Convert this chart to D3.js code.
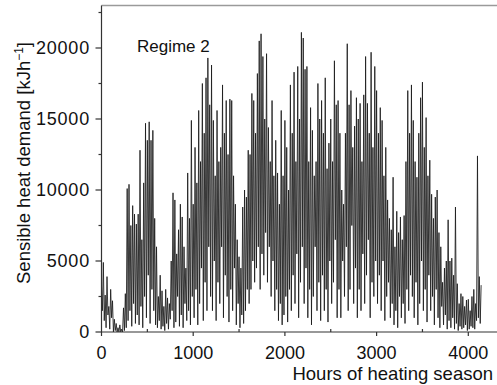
<!DOCTYPE html>
<html>
<head>
<meta charset="utf-8">
<script src="https://cdn.jsdelivr.net/npm/d3@7/dist/d3.min.js"></script>
<style>
  body { margin: 0; background: #fff; }
  text { font-family: "Liberation Sans", Arial, Helvetica, sans-serif; fill: #111; }
</style>
</head>
<body>
<svg id="chart" width="497" height="385"></svg>
<script>
// sensible heat demand: daily highs at 0,20,40.. h
// and the lows between them at 10,30,50.. h
const step = 20;
const peaks = [
  3200, 4900, 2600, 3900, 1800, 3000, 2200, 900, 600, 300,          // 0-180
  500, 200, 1700, 2700, 10100, 10400, 7500, 8900, 8300, 7600,       // 200-380
  8300, 12800, 6500, 10500, 14700, 13500, 14800, 13500, 14200, 8000,// 400-580
  6000, 2500, 4000, 2900, 1800, 3000, 2400, 2000, 5000, 9800,       // 600-780
  9300, 5500, 7200, 9000, 8100, 6000, 4500, 11200, 8000, 14900,     // 800-980
  9000, 13000, 10500, 15600, 12000, 17500, 14000, 17900, 19300, 16000, // 1000-1180
  18800, 14900, 11000, 15600, 12000, 13000, 17400, 14000, 16300, 12500, // 1200-1380
  16400, 16300, 11000, 9000, 6500, 5300, 4500, 8800, 10000, 9500,   // 1400-1580
  12800, 12500, 16800, 16300, 14000, 18200, 20500, 21000, 19400, 15000, // 1600-1780
  19600, 14400, 12000, 16300, 11000, 13500, 11200, 9000, 15600, 11000, // 1800-1980
  14900, 13000, 10000, 17400, 14000, 18300, 12000, 18700, 15000, 21100, // 2000-2180
  20700, 18500, 18700, 12000, 15800, 14200, 11000, 12000, 17500, 15000, // 2200-2380
  16300, 14000, 17900, 11500, 13300, 15000, 12000, 19100, 16000, 16300, // 2400-2580
  14000, 10000, 9000, 14000, 20300, 16000, 17000, 13000, 14500, 16500,  // 2600-2780
  15000, 16100, 12000, 16700, 19400, 16100, 14000, 19700, 13000, 18700, // 2800-2980
  17000, 14000, 15800, 14900, 11000, 13000, 9300, 8000, 7200, 10900,    // 3000-3180
  6000, 8500, 7000, 8100, 6500, 8200, 12000, 17000, 14000, 17400,       // 3200-3380
  14900, 12000, 10900, 14000, 16500, 17600, 13000, 15100, 11000, 12100, // 3400-3580
  9700, 8000, 9500, 10000, 7000, 6000, 3500, 4500, 5000, 7900,          // 3600-3780
  5000, 5200, 4000, 8800, 3400, 2000, 2700, 2500, 1800, 2250,           // 3800-3980
  2300, 1500, 2500, 3000, 2000, 12400, 3900, 3300                       // 4000-4140
];
const troughs = [
  1500, 800, 300, 1200, 200, 1000, 0, 100, 0, 0,               // 10-190
  0, 0, 100, 300, 800, 1500, 400, 2000, 600, 1200,             // 210-390
  500, 1800, 300, 2500, 1000, 4000, 600, 3000, 1500, 500,      // 410-590
  300, 800, 200, 400, 100, 600, 200, 900, 1500, 300,           // 610-790
  700, 2500, 400, 1200, 300, 2000, 800, 1500, 500, 2500,       // 810-990
  1000, 3000, 500, 2000, 4500, 800, 3500, 1500, 6000, 2500,    // 1010-1190
  1500, 5000, 800, 3500, 2000, 6000, 1000, 4000, 2500, 700,    // 1210-1390
  3000, 1500, 4500, 500, 2000, 300, 1200, 600, 1500, 3000,     // 1410-1590
  2000, 3000, 5000, 3500, 4500, 6000, 3000, 5500, 4000, 7000,  // 1610-1790
  3500, 6000, 2500, 5000, 1500, 3000, 800, 2000, 500, 1200,    // 1810-1990
  2500, 700, 3000, 1500, 4000, 2000, 5500, 1000, 3500, 6000,   // 2010-2190
  2000, 4500, 1000, 3000, 500, 2500, 6000, 1500, 3500, 800,    // 2210-2390
  4000, 1500, 3000, 700, 5000, 2000, 3500, 6500, 1000, 3000,   // 2410-2590
  1000, 5000, 2500, 6000, 1500, 3000, 7500, 2000, 4500, 1000,  // 2610-2790
  3000, 1500, 5500, 2000, 4000, 6500, 1000, 3500, 2500, 5000,  // 2810-2990
  2000, 4000, 1500, 5000, 800, 2500, 3500, 1000, 2000, 500,    // 3010-3190
  1500, 300, 2500, 1000, 2000, 600, 3000, 1500, 4000, 2500,    // 3210-3390
  1000, 3500, 500, 2000, 5000, 1500, 3000, 700, 4000, 1500,    // 3410-3590
  2500, 500, 3000, 1000, 300, 1800, 500, 1200, 200, 800,       // 3610-3790
  300, 1000, 200, 600, 100, 400, 200, 300, 500, 100,           // 3810-3990
  200, 400, 300, 200, 800, 1000, 600                           // 4010-4130
];

const xMajor = [0, 1000, 2000, 3000, 4000];
const xMinor = [500, 1500, 2500, 3500];
const yMajor = [0, 5000, 10000, 15000, 20000];
const yMinor = [2500, 7500, 12500, 17500, 22500];

// one hourly trace: high, low, high, low ...
const series = [];
peaks.forEach((v, i) => {
  series.push({ hour: i * step, value: v });
  if (i < troughs.length) series.push({ hour: i * step + step / 2, value: troughs[i] });
});

const svg = d3.select('#chart');

const x = d3.scaleLinear().domain([0, 4000]).range([101.5, 468.3]);
const y = d3.scaleLinear().domain([0, 20000]).range([332, 48]);

const plotLeft = x(0), plotBottom = y(0), plotTop = y(23000), plotRight = 497;

const line = d3.line()
  .x(d => x(d.hour))
  .y(d => y(d.value));

svg.append('path')
  .datum(series)
  .attr('d', line)
  .attr('fill', 'none')
  .attr('stroke', '#1a1a1a')
  .attr('stroke-width', 0.85)
  .attr('stroke-linejoin', 'round');

// frame
svg.append('line')
  .attr('x1', plotLeft).attr('x2', plotRight).attr('y1', plotTop).attr('y2', plotTop)
  .attr('stroke', '#9a9a9a').attr('stroke-width', 1.5);
svg.append('line')
  .attr('x1', plotLeft).attr('x2', plotLeft).attr('y1', plotTop).attr('y2', plotBottom)
  .attr('stroke', '#333').attr('stroke-width', 1.2);
svg.append('line')
  .attr('x1', plotLeft).attr('x2', plotRight).attr('y1', plotBottom).attr('y2', plotBottom)
  .attr('stroke', '#333').attr('stroke-width', 1.2);

// y ticks
svg.selectAll('.ymaj').data(yMajor).enter().append('line')
  .attr('x1', plotLeft - 6).attr('x2', plotLeft)
  .attr('y1', d => y(d)).attr('y2', d => y(d))
  .attr('stroke', '#333').attr('stroke-width', 1.2);
svg.selectAll('.ymin').data(yMinor).enter().append('line')
  .attr('x1', plotLeft - 3).attr('x2', plotLeft)
  .attr('y1', d => y(d)).attr('y2', d => y(d))
  .attr('stroke', '#333').attr('stroke-width', 1.2);
svg.selectAll('.ylab').data(yMajor).enter().append('text')
  .attr('x', 90).attr('y', d => y(d)).attr('dy', '0.36em')
  .attr('text-anchor', 'end')
  .style('font-size', '18px').style('letter-spacing', '0.8px')
  .text(d => d);

// x ticks
svg.selectAll('.xmaj').data(xMajor).enter().append('line')
  .attr('x1', d => x(d)).attr('x2', d => x(d))
  .attr('y1', plotBottom).attr('y2', plotBottom + 4)
  .attr('stroke', '#333').attr('stroke-width', 1.2);
svg.selectAll('.xmin').data(xMinor).enter().append('line')
  .attr('x1', d => x(d)).attr('x2', d => x(d))
  .attr('y1', plotBottom - 3).attr('y2', plotBottom)
  .attr('stroke', '#333').attr('stroke-width', 1.2);
svg.selectAll('.xlab').data(xMajor).enter().append('text')
  .attr('x', d => x(d)).attr('y', 359)
  .attr('text-anchor', 'middle').style('font-size', '18px')
  .text(d => d);

// titles
svg.append('text')
  .attr('x', 493).attr('y', 380)
  .attr('text-anchor', 'end').style('font-size', '18.5px')
  .text('Hours of heating season');

const yt = svg.append('text')
  .attr('transform', 'translate(30,163) rotate(-90)')
  .attr('text-anchor', 'middle').style('font-size', '18.5px');
yt.append('tspan').text('Sensible heat demand [kJh');
yt.append('tspan').attr('baseline-shift', 'super').style('font-size', '12px').text('\u22121');
yt.append('tspan').text(']');

svg.append('text')
  .attr('x', 137).attr('y', 52)
  .style('font-size', '17px')
  .text('Regime 2');
</script>
</body>
</html>
